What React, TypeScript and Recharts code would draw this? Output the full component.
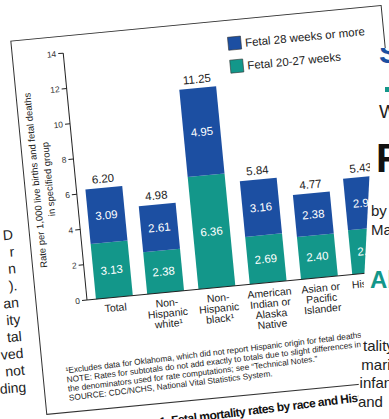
import React from "react";
import { BarChart, Bar, XAxis, YAxis, LabelList } from "recharts";

// Fetal mortality rates per 1,000 live births and fetal deaths
const categories = [
  "Total",
  "Non-Hispanic white¹",
  "Non-Hispanic black¹",
  "American Indian or Alaska Native",
  "Asian or Pacific Islander",
  "Hispanic",
];
const categoryLines = [
  ["Total"],
  ["Non-", "Hispanic", "white¹"],
  ["Non-", "Hispanic", "black¹"],
  ["American", "Indian or", "Alaska", "Native"],
  ["Asian or", "Pacific", "Islander"],
  ["Hispanic"],
];
const fetal28Plus = [3.09, 2.61, 4.95, 3.16, 2.38, 2.92];
const fetal20to27 = [3.13, 2.38, 6.36, 2.69, 2.4, 2.51];
const totals = [6.2, 4.98, 11.25, 5.84, 4.77, 5.43];
const yTicks = [0, 2, 4, 6, 8, 10, 12, 14];

const seriesNames = ["Fetal 28 weeks or more", "Fetal 20-27 weeks"];
const footnotes = [
  "¹Excludes data for Oklahoma, which did not report Hispanic origin for fetal deaths.",
  "NOTE: Rates for subtotals do not add exactly to totals due to slight differences in",
  "the denominators used for rate computations; see “Technical Notes.”",
  "SOURCE: CDC/NCHS, National Vital Statistics System.",
];
const caption =
  "Figure 1. Fetal mortality rates by race and Hispanic origin of mother: United States, 2005";

const BLUE = "#1c4fa2";
const TEAL = "#13978a";
const FONT = "'Liberation Sans', Arial, Helvetica, sans-serif";

const data = categories.map((name, i) => ({
  name,
  late: fetal28Plus[i],
  early: fetal20to27[i],
  total: totals[i],
}));

const fmt = (v: any) => Number(v).toFixed(2);

function CategoryTick(props: any) {
  const { x, y, payload } = props;
  const idx = categories.indexOf(payload.value);
  const lines = idx >= 0 ? categoryLines[idx] : [String(payload.value)];
  return (
    <text x={x} y={y} textAnchor="middle" fontSize={10.5} fill="#222" fontFamily={FONT}>
      {lines.map((l, i) => (
        <tspan key={i} x={x} dy={i === 0 ? 14 : 10.5}>
          {l}
        </tspan>
      ))}
    </text>
  );
}

// text fragments from the neighbouring pages
const leftColumn = ["D", "r", "n", ").", "an", "ity", "tal", "ved", "not", "ding"];
const rightColumn = ["tality", "mari", "infan", "and"];

export default function App() {
  return (
    <div
      style={{
        position: "fixed",
        left: 0,
        top: 0,
        width: 389,
        height: 419,
        overflow: "hidden",
        background: "#fff",
        fontFamily: FONT,
      }}
    >
      {/* left page column edge */}
      <div
        style={{
          position: "absolute",
          left: -80,
          top: 226,
          width: 100,
          transform: "rotate(-5deg)",
          transformOrigin: "100px 90px",
          textAlign: "right",
          fontSize: 14,
          lineHeight: "17px",
          color: "#222",
        }}
      >
        {leftColumn.map((t, i) => (
          <div key={i}>{t}</div>
        ))}
      </div>

      {/* chart page */}
      <div
        style={{
          position: "absolute",
          left: 27,
          top: 30,
          width: 420,
          height: 420,
          transformOrigin: "60px 270px",
          transform: "rotate(-5.5deg)",
        }}
      >
        <div style={{ position: "absolute", left: 0, top: 0 }}>
          <BarChart
            width={371}
            height={330}
            data={data}
            margin={{ top: 22, right: 0, left: 0, bottom: 0 }}
          >
            <YAxis
              width={60}
              domain={[0, 14]}
              ticks={yTicks}
              interval={0}
              tickSize={5}
              tick={{ fontSize: 8.5, fill: "#333", fontFamily: FONT }}
              axisLine={{ stroke: "#222" }}
              tickLine={{ stroke: "#222" }}
            />
            <XAxis
              dataKey="name"
              height={60}
              interval={0}
              padding={{ left: 2, right: 0 }}
              tickLine={false}
              tickSize={0}
              tickMargin={0}
              axisLine={{ stroke: "#222" }}
              tick={<CategoryTick />}
            />
            <Bar dataKey="early" stackId="a" fill={TEAL} barSize={37} isAnimationActive={false}>
              <LabelList
                dataKey="early"
                position="center"
                formatter={fmt}
                fill="#fff"
                fontSize={11.5}
                fontFamily={FONT}
              />
            </Bar>
            <Bar dataKey="late" stackId="a" fill={BLUE} barSize={37} isAnimationActive={false}>
              <LabelList
                dataKey="late"
                position="center"
                formatter={fmt}
                fill="#fff"
                fontSize={11.5}
                fontFamily={FONT}
              />
              <LabelList
                dataKey="total"
                position="top"
                offset={5}
                formatter={fmt}
                fill="#222"
                fontSize={11.5}
                fontFamily={FONT}
              />
            </Bar>
          </BarChart>
        </div>

        <svg
          width={420}
          height={420}
          style={{ position: "absolute", left: 0, top: 0, pointerEvents: "none" }}
          fontFamily={FONT}
        >
          {/* panel frame */}
          <rect x={9} y={5} width={372} height={375} fill="none" stroke="#333" strokeWidth={1} />

          {/* y-axis title */}
          <text
            transform="translate(20,146) rotate(-90)"
            textAnchor="middle"
            dominantBaseline="central"
            fontSize={9.5}
            fill="#222"
          >
            Rate per 1,000 live births and fetal deaths
          </text>
          <text
            transform="translate(33,146) rotate(-90)"
            textAnchor="middle"
            dominantBaseline="central"
            fontSize={9.5}
            fill="#222"
          >
            in specified group
          </text>

          {/* legend */}
          {seriesNames.map((s, i) => (
            <g key={s}>
              <rect
                x={225}
                y={22 + i * 23}
                width={13}
                height={13}
                fill={i === 0 ? BLUE : TEAL}
                stroke="#333"
                strokeWidth={0.6}
              />
              <text x={242} y={29 + i * 23} dominantBaseline="central" fontSize={11.5} fill="#222">
                {s}
              </text>
            </g>
          ))}

          {/* notes */}
          <g transform="rotate(-1.4 32 341)">
            {footnotes.map((f, i) => (
              <text key={i} x={32} y={341 + i * 9.2} fontSize={8.3} fill="#222">
                {f}
              </text>
            ))}
          </g>

          {/* figure title */}
          <g transform="rotate(-1.5 250 399)">
            <text x={84} y={399} fontSize={12} fontWeight="bold" letterSpacing={-0.5} fill="#111">
              {caption}
            </text>
          </g>
        </svg>
      </div>

      {/* overlapping right-hand page */}
      <div
        style={{
          position: "absolute",
          left: 0,
          top: 0,
          width: 389,
          height: 419,
          background: "#fff",
          clipPath: "polygon(376px 48px, 389px 48px, 389px 419px, 357px 419px)",
        }}
      >
        <div style={{ position: "absolute", left: 379, top: 36, fontSize: 30, fontWeight: "bold", color: BLUE }}>
          S
        </div>
        <div style={{ position: "absolute", left: 385, top: 87, width: 6, height: 5, background: TEAL }} />
        <div style={{ position: "absolute", left: 379, top: 101, fontSize: 19, color: "#222" }}>W</div>
        <div style={{ position: "absolute", left: 376, top: 136, fontSize: 40, fontWeight: "bold", color: "#111" }}>
          F
        </div>
        <div style={{ position: "absolute", left: 371, top: 201, fontSize: 15, color: "#222", lineHeight: "19px" }}>
          <div>by</div>
          <div>Ma</div>
        </div>
        <div style={{ position: "absolute", left: 370, top: 266, fontSize: 24, fontWeight: "bold", color: TEAL }}>
          Ab
        </div>
        <div
          style={{
            position: "absolute",
            left: 358,
            top: 337,
            fontSize: 15,
            color: "#222",
            lineHeight: "18.5px",
          }}
        >
          {rightColumn.map((t, i) => (
            <div key={i} style={{ marginLeft: 5 - i * 1.7 }}>
              {t}
            </div>
          ))}
        </div>
      </div>
    </div>
  );
}
